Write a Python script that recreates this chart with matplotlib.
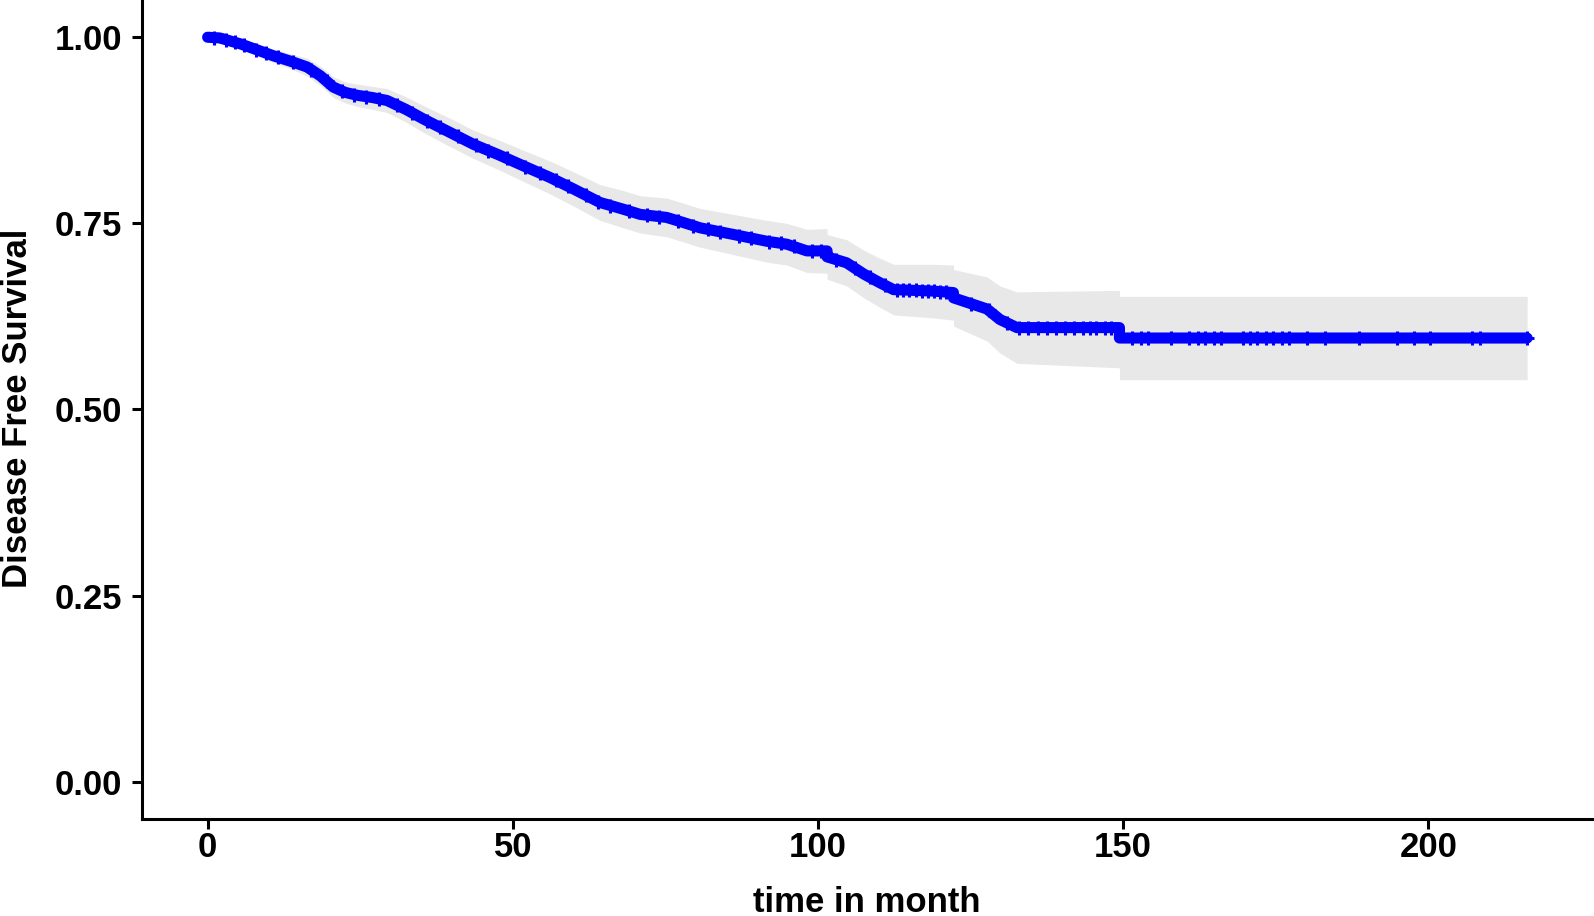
import numpy as np
import matplotlib.pyplot as plt

# Kaplan-Meier estimate (months, survival, 95% CI)
time = [0, 2, 5.4, 10.8, 13.5, 16.3, 18.5, 20.6, 22.5, 24.5, 27, 29.4, 32.5,
        35.4, 39.5, 43.6, 47.7, 51.8, 56, 60.0, 64.3, 68.1, 70.9, 75.2, 78,
        80.7, 86.2, 91.6, 94.9, 98.2, 101.5, 101.5, 104.7, 107.5, 110.2,
        112.4, 118.9, 122.2, 122.2, 124.4, 127.7, 129.8, 132.6, 149.4, 149.4,
        216.2]
surv = [1.000, 0.999, 0.991, 0.975, 0.968, 0.960, 0.948, 0.933, 0.926, 0.922,
        0.919, 0.915, 0.903, 0.890, 0.873, 0.856, 0.842, 0.827, 0.812, 0.796,
        0.778, 0.769, 0.762, 0.758, 0.751, 0.744, 0.735, 0.726, 0.722, 0.713,
        0.713, 0.705, 0.697, 0.682, 0.670, 0.661, 0.659, 0.657, 0.650, 0.644,
        0.635, 0.621, 0.610, 0.610, 0.596, 0.596]
lower = [1.000, 0.997, 0.985, 0.966, 0.958, 0.948, 0.935, 0.919, 0.912, 0.907,
         0.903, 0.899, 0.886, 0.872, 0.854, 0.837, 0.822, 0.806, 0.790, 0.773,
         0.754, 0.744, 0.737, 0.732, 0.725, 0.718, 0.708, 0.698, 0.694, 0.684,
         0.683, 0.675, 0.666, 0.650, 0.637, 0.627, 0.623, 0.620, 0.612, 0.604,
         0.592, 0.576, 0.562, 0.556, 0.540, 0.540]
upper = [1.000, 1.000, 0.997, 0.984, 0.978, 0.972, 0.961, 0.947, 0.940, 0.937,
         0.934, 0.931, 0.920, 0.908, 0.892, 0.875, 0.862, 0.848, 0.834, 0.819,
         0.802, 0.794, 0.787, 0.784, 0.777, 0.770, 0.762, 0.754, 0.750, 0.742,
         0.743, 0.735, 0.728, 0.714, 0.703, 0.695, 0.695, 0.694, 0.688, 0.684,
         0.678, 0.666, 0.658, 0.660, 0.652, 0.652]

# censored observations visible as "+" marks
censor_times = [1, 3, 4.5, 6, 8, 9.5, 11.5, 14, 17, 19.5, 22, 24, 26, 28, 31,
                33.5, 36, 38, 41, 44, 46, 49, 52, 54.5, 57, 59, 62, 64, 66, 69,
                72, 74, 77, 79.5, 82, 84, 87, 89, 92, 94, 96, 99, 100.5, 103,
                106, 108.5, 111,
                113, 114, 115, 116, 117, 118, 119, 120, 121, 125, 128, 131,
                133, 134.5, 136, 137.5, 139, 140.5, 142, 143.5, 144.5, 145.5, 147, 148,
                151.5, 153.0, 154.1, 157.9, 160.8, 162.3, 163.5, 164.9, 166.1,
                169.6, 170.8, 172.0, 173.4, 174.6, 176.1, 177.2, 180.2, 183.1,
                188.6, 194.8, 197.7, 200.3, 207.1, 208.5, 216.1]

x_ticks = [0, 50, 100, 150, 200]
y_ticks = [0.00, 0.25, 0.50, 0.75, 1.00]

plt.rcParams['font.family'] = ['Liberation Sans', 'DejaVu Sans']
plt.rcParams['font.weight'] = 'bold'
FS = 25

fig = plt.figure(figsize=(15.94, 9.16), dpi=100)
ax = fig.add_axes([0.0889, 0.1059, 0.9105, 0.8941])

ax.fill_between(time, lower, upper, color='#e8e8e8', linewidth=0, zorder=1)
ax.plot(time, surv, color='#0000ff', linewidth=8, solid_capstyle='round',
        solid_joinstyle='round', zorder=3)

# censor marks sit on the curve
c_surv = np.interp(censor_times, time, surv)
ax.plot(censor_times, c_surv, linestyle='none', marker='+', markersize=10,
        markeredgewidth=2.2, color='#0000ff', zorder=4)

ax.set_xlim(-10.8, 227)
ax.set_ylim(-0.05, 1.05)
ax.set_xticks(x_ticks)
ax.set_xticklabels([str(v) for v in x_ticks])
ax.set_yticks(y_ticks)
ax.set_yticklabels([f"{v:.2f}" for v in y_ticks])

for side in ['top', 'right']:
    ax.spines[side].set_visible(False)
for side in ['left', 'bottom']:
    ax.spines[side].set_linewidth(2.2)
    ax.spines[side].set_color('black')

ax.tick_params(axis='both', length=7, width=2.2, color='black', labelsize=FS)
ax.tick_params(axis='x', pad=2)
ax.tick_params(axis='y', pad=7)
for lab in ax.get_xticklabels() + ax.get_yticklabels():
    lab.set_fontweight('bold')

fig.text(866.5 / 1594, 1 - 912 / 916, "time in month", ha='center', va='baseline',
         fontsize=FS, fontweight='bold')
fig.text(27.5 / 1594, 1 - 408.5 / 916, "Disease Free Survival", ha='center',
         va='baseline', rotation=90, rotation_mode='anchor',
         fontsize=FS, fontweight='bold')

fig.savefig("out.png", dpi=100)
